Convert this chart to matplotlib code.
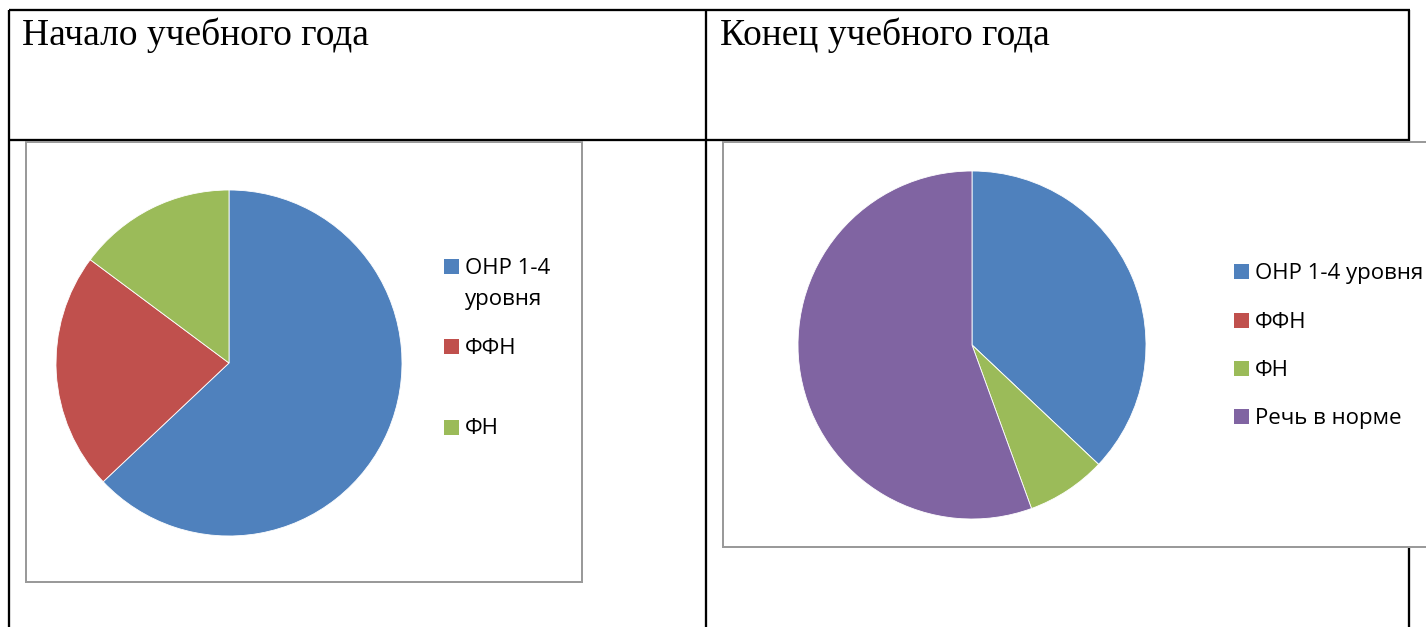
import matplotlib
matplotlib.use("Agg")
import matplotlib.pyplot as plt
from matplotlib.patches import Rectangle

W, H = 1426, 627
DPI = 100

# ---- data ----
titles = ["Начало учебного года", "Конец учебного года"]
start_labels = ["ОНР 1-4\nуровня", "ФФН", "ФН"]
start_values = [17, 6, 4]
end_labels = ["ОНР 1-4 уровня", "ФФН", "ФН", "Речь в норме"]
end_values = [10, 0, 2, 15]
colors = ["#4F81BD", "#C0504D", "#9BBB59", "#8064A2"]

fig = plt.figure(figsize=(W / DPI, H / DPI), dpi=DPI)
fig.patch.set_facecolor("white")

bg = fig.add_axes([0, 0, 1, 1])
bg.set_xlim(0, W)
bg.set_ylim(H, 0)
bg.axis("off")

px = 72.0 / DPI  # points per pixel

# table lines
tl = dict(color="black", lw=2.3 * px, solid_capstyle="butt", zorder=1)
bg.plot([9, 1410], [10, 10], **tl)
bg.plot([9, 1410], [140, 140], **tl)
bg.plot([9, 9], [10, H + 5], **tl)
bg.plot([706, 706], [10, H + 5], **tl)
bg.plot([1409, 1409], [10, 141], **tl)
bg.plot([1409, 1409], [547, H + 5], **tl)

# chart frames
for (x0, y0, x1, y1) in [(26, 142, 582, 582), (723, 142, 1440, 547)]:
    bg.add_patch(Rectangle((x0, y0), x1 - x0, y1 - y0, facecolor="white",
                           edgecolor="#9a9a9a", lw=2 * px, zorder=2))

# titles
serif = ["Liberation Serif", "DejaVu Serif"]
bg.text(22, 45, titles[0], family=serif, fontsize=27, va="baseline", ha="left", zorder=3)
bg.text(720, 45, titles[1], family=serif, fontsize=27, va="baseline", ha="left", zorder=3)


def pie_axes(cx, cy, r):
    ax = fig.add_axes([(cx - r) / W, 1 - (cy + r) / H, 2 * r / W, 2 * r / H])
    return ax


wp = dict(edgecolor="white", linewidth=0.6)

ax1 = pie_axes(229, 363, 173)
ax1.pie(start_values, colors=colors[:len(start_values)], startangle=90,
        counterclock=False, wedgeprops=wp)
ax1.set_xlim(-1, 1)
ax1.set_ylim(-1, 1)
ax1.set_zorder(5)

ax2 = pie_axes(972, 345, 174)
ax2.pie(end_values, colors=colors[:len(end_values)], startangle=90,
        counterclock=False, wedgeprops=wp)
ax2.set_xlim(-1, 1)
ax2.set_ylim(-1, 1)
ax2.set_zorder(5)

# legends (manual, Excel-like spacing)
sans = ["Open Sans", "DejaVu Sans"]
lfs = 16
msz = 15


def legend(x_marker, centers, labels, line_step=31):
    for yc, lab, col in zip(centers, labels, colors):
        bg.add_patch(Rectangle((x_marker, yc - msz / 2), msz, msz,
                               facecolor=col, edgecolor="none", zorder=3))
        for k, ln in enumerate(lab.split("\n")):
            bg.text(x_marker + 21, yc + 7.5 + k * line_step, ln, family=sans,
                    fontsize=lfs, va="baseline", ha="left", zorder=3)


legend(444, [266, 346, 427], start_labels)
legend(1234, [271.5, 320.5, 368.5, 416.5], end_labels)

fig.savefig("out.png", dpi=DPI, facecolor="white")
